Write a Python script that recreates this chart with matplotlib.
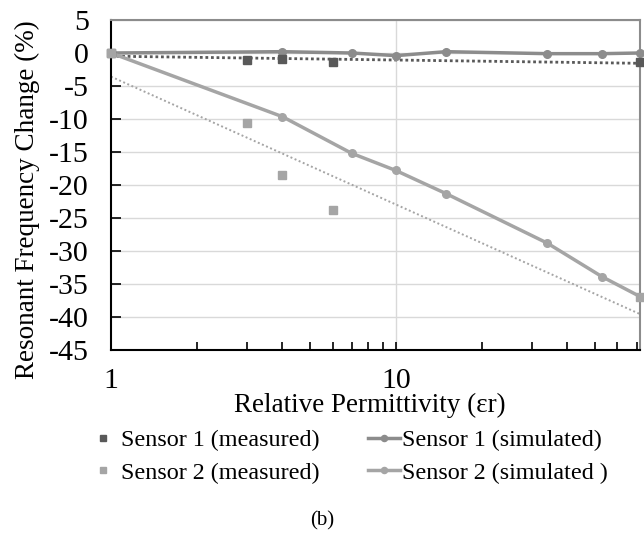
import numpy as np
import matplotlib
matplotlib.use("Agg")
import matplotlib.pyplot as plt
from matplotlib.ticker import LogLocator, NullFormatter, FixedLocator, FixedFormatter

plt.rcParams['font.family'] = ['Liberation Serif', 'DejaVu Serif']

# ---- data ----
meas_x = [1, 3, 4, 6, 72]
sensor1_meas = [0.0, -1.06, -0.85, -1.36, -1.3]
sensor2_meas = [0.0, -10.65, -18.5, -23.8, -36.9]

sim_x = [1, 4, 7, 10, 15, 34, 53, 72]
sensor1_sim = [0.0, 0.2, 0.0, -0.4, 0.2, -0.1, -0.1, 0.0]
sensor2_sim = [0.0, -9.65, -15.2, -17.8, -21.3, -28.8, -33.9, -36.9]

x_ticks = [1, 10]
x_ticklabels = ['1', '10']
y_ticks = [5, 0, -5, -10, -15, -20, -25, -30, -35, -40, -45]

labels = ['Sensor 1 (measured)', 'Sensor 2 (measured)',
          'Sensor 1 (simulated)', 'Sensor 2 (simulated )']

# colours
c_s1m = '#595959'
c_s2m = '#a5a5a5'
c_s1s = '#8c8c8c'
c_s2s = '#a5a5a5'

fig = plt.figure(figsize=(6.44, 5.38), dpi=100)
ax = fig.add_axes([111/644, 1-350/538, (640-111)/644, (350-20)/538])

ax.set_xscale('log')
ax.set_xlim(1, 72)
ax.set_ylim(-45, 5)

# grid
ax.set_yticks(y_ticks)
ax.yaxis.grid(True, color='#d9d9d9', linewidth=1.0, zorder=0)
ax.axvline(10, color='#d9d9d9', linewidth=1.0, zorder=0)

# log trendlines fitted on measured data
lx = np.log(np.array(meas_x, dtype=float))
xt = np.geomspace(min(meas_x), max(meas_x), 50)
k1, b1 = np.polyfit(lx, sensor1_meas, 1)
k2, b2 = np.polyfit(lx, sensor2_meas, 1)
ax.plot(xt, k1*np.log(xt)+b1, color=c_s1m, linestyle=(0, (1, 1)), linewidth=2.0, zorder=2)
ax.plot(xt, k2*np.log(xt)+b2, color=c_s2m, linestyle=(0, (1, 1.3)), linewidth=1.4, zorder=2)

# simulated lines
h3, = ax.plot(sim_x, sensor1_sim, color=c_s1s, linewidth=2.5, marker='o', markersize=5.5,
              clip_on=False, zorder=3, label=labels[2])
h4, = ax.plot(sim_x, sensor2_sim, color=c_s2s, linewidth=2.5, marker='o', markersize=5.5,
              clip_on=False, zorder=3, label=labels[3])

# measured points
h1, = ax.plot(meas_x, sensor1_meas, linestyle='none', marker='s', markersize=6,
              color=c_s1m, clip_on=False, zorder=4, label=labels[0])
h2, = ax.plot(meas_x, sensor2_meas, linestyle='none', marker='s', markersize=6,
              color=c_s2m, clip_on=False, zorder=5, label=labels[1])

# spines
for s in ['left', 'bottom']:
    ax.spines[s].set_color('black')
    ax.spines[s].set_linewidth(1.5)
for s in ['top', 'right']:
    ax.spines[s].set_color('#8c8c8c')
    ax.spines[s].set_linewidth(1.5)

# ticks
ax.xaxis.set_major_locator(FixedLocator(x_ticks))
ax.xaxis.set_major_formatter(FixedFormatter(x_ticklabels))
ax.xaxis.set_minor_locator(LogLocator(base=10, subs=np.arange(2, 10)))
ax.xaxis.set_minor_formatter(NullFormatter())
ax.tick_params(axis='x', which='both', direction='in', length=6, width=1.2,
               labelsize=21.5, pad=13, top=False)
ax.tick_params(axis='y', which='major', direction='in', length=7, width=1.2,
               labelsize=21.5, pad=16, right=False)
ax.set_yticklabels([str(v) for v in y_ticks])

ax.set_xlabel('Relative Permittivity (εr)', fontsize=19.5)
ax.xaxis.set_label_coords(0.49, -0.13)
ax.set_ylabel('Resonant Frequency Change (%)', fontsize=19.5)
ax.yaxis.set_label_coords(-0.134, 0.4545)

leg = fig.legend([h1, h2, h3, h4], labels, ncol=2, loc='center',
                 bbox_to_anchor=(0.5397, 1-456.5/538), frameon=False, fontsize=17.4,
                 handlelength=1.3, handletextpad=0.1, columnspacing=2.0,
                 labelspacing=0.45, markerscale=0.8)

fig.text(322/644, 1-521/538, '(b)', fontsize=15, ha='center', va='center')

fig.savefig('out.png', dpi=100)
